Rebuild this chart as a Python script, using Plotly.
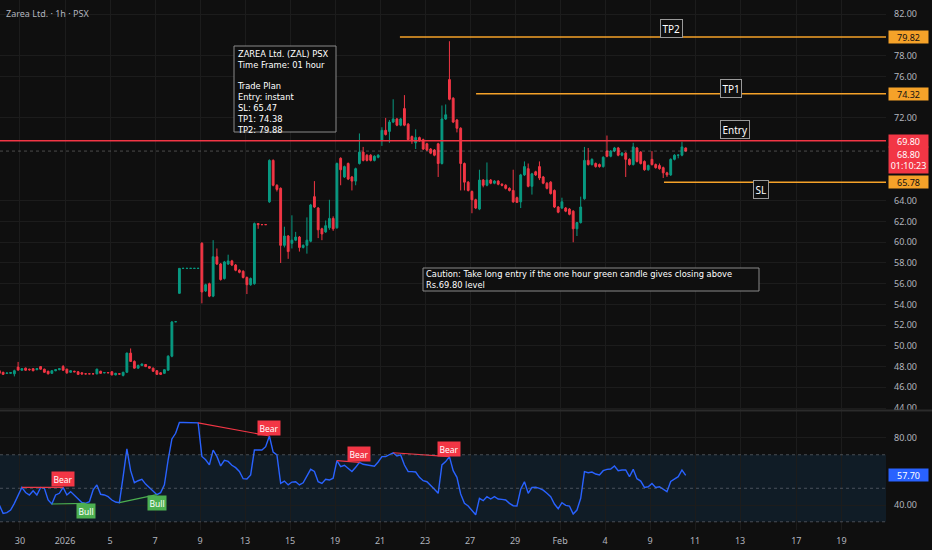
import plotly.graph_objects as go

GREEN = "#089981"
RED = "#f23645"
ORANGE = "#f5a229"
BLUE = "#2962ff"
BULL = "#4caf50"
BG = "#0f0f0f"
GRID = "#1c1c1c"
TEXT = "#b2b5be"
FONT = "Noto Sans"
NOTE_FONT = "DejaVu Sans"

# hourly bars of ZAL, index 0 = first bar of 29 Dec, 6 bars per session
opens = [
    47.60, 47.45, 47.35, 47.35, 47.30, 47.95, 47.65, 47.85, 47.75, 47.80,
    47.70, 48.00, 47.75, 47.55, 47.35, 47.60, 47.70, 48.00, 47.75, 47.45,
    47.55, 47.50, 47.40, 47.30, 47.30, 47.30, 47.30, 47.55, 47.40, 47.42,
    47.50, 47.20, 47.30, 47.15, 47.45, 49.30, 48.50, 47.85, 48.10, 48.20,
    48.00, 47.85, 47.60, 47.40, 47.35, 47.65, 49.00, 52.33, 55.07, 57.48,
    57.48, 57.48, 57.48, 57.48, 59.90, 55.30, 56.00, 54.80, 58.60, 57.90,
    56.50, 57.90, 58.20, 57.80, 57.30, 57.20, 56.60, 55.90, 56.00, 61.80,
    61.70, 61.70, 63.90, 67.90, 65.50, 65.20, 59.70, 60.60, 59.90, 60.20,
    60.50, 59.50, 59.70, 60.10, 64.40, 63.30, 61.30, 61.00, 61.40, 62.30,
    61.40, 68.10, 66.30, 67.60, 66.30, 65.90, 67.60, 68.70, 68.40, 68.40,
    67.90, 68.20, 69.80, 70.80, 70.70, 71.60, 71.90, 71.30, 72.90, 71.40,
    70.20, 69.60, 70.10, 69.90, 69.50, 69.00, 68.90, 69.50, 67.60, 71.90,
    75.70, 73.90, 71.80, 71.00, 67.60, 65.80, 64.90, 64.10, 63.20, 66.00,
    65.50, 66.00, 65.70, 65.90, 65.60, 65.50, 65.20, 65.00, 64.30, 63.90,
    66.50, 67.10, 65.40, 66.80, 67.30, 66.30, 65.70, 65.80, 65.00, 63.40,
    63.30, 63.30, 63.20, 63.00, 61.30, 61.90, 64.20, 67.90, 67.50, 67.60,
    67.50, 67.30, 68.80, 68.30, 68.80, 69.10, 68.40, 68.60, 68.00, 67.50,
    69.10, 68.70, 67.80, 67.00, 68.00, 67.50, 67.40, 67.20, 66.70, 66.50,
    68.00, 68.40, 68.40, 69.10,
]
highs = [
    47.70, 47.50, 47.40, 47.45, 47.70, 48.45, 47.85, 47.90, 47.80, 47.85,
    47.85, 48.05, 47.80, 47.60, 47.65, 47.75, 47.85, 48.15, 47.80, 47.65,
    47.60, 47.55, 47.45, 47.35, 47.30, 47.30, 47.80, 47.60, 47.45, 47.45,
    47.55, 47.40, 47.35, 47.50, 49.35, 49.75, 48.60, 48.20, 48.30, 48.25,
    48.05, 47.90, 47.65, 47.45, 47.75, 49.10, 52.40, 52.33, 57.50, 57.48,
    57.48, 57.48, 57.48, 57.48, 60.00, 56.00, 56.10, 60.20, 59.40, 58.00,
    58.20, 58.80, 58.30, 57.90, 57.40, 57.30, 56.70, 56.60, 61.90, 61.85,
    61.70, 61.70, 68.00, 68.00, 65.60, 65.30, 61.50, 60.70, 62.60, 61.00,
    60.60, 59.80, 62.40, 63.70, 65.90, 63.40, 61.40, 62.10, 64.10, 62.50,
    67.70, 68.20, 67.40, 67.70, 66.40, 67.20, 70.50, 69.20, 68.50, 68.50,
    68.40, 68.50, 71.10, 72.00, 71.80, 73.80, 72.00, 72.00, 74.20, 71.50,
    70.30, 70.90, 70.20, 70.00, 69.60, 69.10, 69.00, 69.60, 73.20, 73.30,
    79.40, 74.00, 71.90, 71.10, 67.70, 65.90, 65.00, 64.20, 67.00, 66.10,
    67.70, 66.10, 66.00, 66.00, 65.70, 65.60, 65.30, 67.00, 64.40, 66.60,
    67.80, 67.60, 66.70, 66.90, 67.80, 66.40, 65.80, 65.90, 65.10, 63.50,
    64.30, 63.40, 63.30, 63.10, 61.90, 64.40, 69.20, 69.10, 68.10, 67.70,
    67.60, 68.30, 70.30, 68.90, 69.20, 69.20, 68.70, 68.70, 68.10, 69.60,
    69.20, 68.80, 67.90, 67.50, 68.80, 67.60, 67.60, 67.30, 66.80, 68.10,
    68.50, 68.50, 69.70, 69.15,
]
lows = [
    47.30, 47.20, 47.30, 47.30, 47.05, 47.60, 47.60, 47.60, 47.60, 47.55,
    47.65, 47.70, 47.40, 47.25, 47.30, 47.55, 47.65, 47.60, 47.30, 47.40,
    47.45, 47.20, 47.20, 47.25, 47.30, 47.30, 47.25, 47.30, 47.35, 47.38,
    47.15, 47.15, 47.25, 47.05, 47.40, 48.45, 47.80, 47.80, 48.05, 47.95,
    47.80, 47.50, 47.20, 47.20, 47.30, 47.60, 48.90, 52.33, 55.05, 57.48,
    57.48, 57.48, 57.48, 57.48, 54.10, 55.20, 54.70, 54.70, 57.80, 56.30,
    56.40, 57.80, 57.70, 57.20, 57.00, 56.50, 55.00, 55.80, 55.90, 61.30,
    61.70, 61.70, 63.80, 65.40, 64.90, 58.00, 59.50, 58.40, 59.40, 60.10,
    59.10, 59.40, 58.90, 60.00, 63.30, 60.40, 60.20, 60.90, 61.20, 61.10,
    61.30, 65.50, 66.20, 66.00, 65.00, 65.50, 67.50, 67.80, 67.80, 67.80,
    67.80, 68.10, 69.30, 70.30, 69.60, 71.50, 71.20, 71.20, 71.20, 69.80,
    69.50, 69.00, 69.70, 68.90, 68.80, 68.50, 68.30, 66.30, 67.50, 71.80,
    73.70, 71.50, 70.60, 65.00, 65.00, 64.90, 62.80, 63.20, 63.10, 65.30,
    65.40, 65.60, 65.60, 65.50, 65.40, 65.10, 64.90, 63.80, 63.80, 63.30,
    66.40, 65.30, 64.60, 66.40, 66.00, 65.60, 65.10, 64.60, 63.30, 62.80,
    63.20, 62.90, 62.60, 60.00, 60.60, 61.80, 64.10, 67.40, 67.40, 67.20,
    67.20, 67.20, 68.20, 68.20, 68.70, 68.30, 68.30, 66.30, 67.40, 67.40,
    67.70, 67.50, 66.90, 66.90, 67.40, 67.10, 67.00, 66.20, 66.30, 66.40,
    67.90, 68.10, 68.30, 68.75,
]
closes = [
    47.35, 47.25, 47.38, 47.42, 47.60, 47.67, 47.80, 47.65, 47.70, 47.60,
    47.80, 47.75, 47.45, 47.30, 47.60, 47.70, 47.80, 47.65, 47.40, 47.60,
    47.50, 47.25, 47.30, 47.30, 47.30, 47.30, 47.75, 47.35, 47.42, 47.40,
    47.20, 47.35, 47.28, 47.45, 49.30, 48.50, 47.85, 48.10, 48.25, 48.00,
    47.85, 47.55, 47.25, 47.25, 47.70, 49.00, 52.30, 52.33, 57.48, 57.48,
    57.48, 57.48, 57.48, 57.48, 55.20, 55.90, 54.80, 58.60, 57.90, 56.40,
    58.10, 58.20, 57.80, 57.30, 57.10, 56.60, 55.90, 56.50, 61.80, 61.70,
    61.70, 61.70, 67.90, 65.50, 65.10, 59.70, 60.60, 59.10, 60.20, 60.50,
    59.50, 59.70, 60.20, 63.60, 63.40, 61.20, 60.80, 61.60, 62.30, 61.30,
    67.60, 67.00, 67.30, 66.10, 65.90, 67.10, 68.70, 67.90, 67.90, 67.90,
    68.30, 68.40, 70.80, 70.40, 71.60, 71.90, 71.30, 71.90, 71.30, 69.90,
    69.80, 70.10, 69.80, 69.00, 68.90, 68.60, 68.40, 67.60, 71.90, 72.30,
    73.80, 71.60, 71.00, 67.60, 65.80, 65.00, 64.10, 63.30, 66.00, 65.50,
    66.00, 65.70, 65.90, 65.60, 65.50, 65.20, 65.00, 63.90, 63.85, 66.50,
    67.30, 65.40, 66.60, 66.50, 66.20, 65.70, 65.20, 64.70, 63.40, 62.90,
    63.90, 63.00, 62.70, 61.30, 61.90, 63.40, 67.90, 67.50, 68.00, 67.30,
    67.30, 68.20, 68.30, 68.80, 69.10, 68.40, 68.60, 68.00, 67.50, 69.20,
    67.80, 67.60, 67.00, 67.40, 67.50, 67.20, 67.10, 66.70, 66.50, 68.00,
    68.40, 68.40, 69.20, 68.80,
]
rsi = [
    40.0, 35.0, 35.5, 37.0, 41.0, 46.0, 50.5, 47.5, 46.0, 48.5,
    46.0, 50.5, 50.0, 43.0, 40.6, 46.0, 47.0, 50.5, 46.0, 48.0,
    46.0, 43.5, 41.5, 41.0, 42.0, 49.0, 52.0, 46.4, 46.0, 45.0,
    43.0, 41.8, 41.4, 57.0, 73.5, 60.5, 53.3, 54.5, 55.3, 52.5,
    50.5, 48.2, 46.2, 47.4, 52.0, 67.0, 79.4, 82.8, 89.2, 89.2,
    89.2, 89.2, 89.2, 89.0, 69.0, 67.0, 64.0, 72.8, 69.0, 63.3,
    66.7, 66.0, 63.7, 62.3, 60.0, 55.7, 55.5, 58.0, 72.8, 72.8,
    72.8, 74.8, 81.2, 71.6, 69.9, 52.9, 54.3, 52.0, 53.7, 53.9,
    52.0, 53.3, 57.3, 61.3, 60.0, 53.9, 52.9, 55.3, 54.9, 56.0,
    66.5, 62.9, 63.7, 61.9, 60.0, 62.5, 65.5, 64.3, 63.9, 63.7,
    63.1, 65.7, 68.9, 68.9, 70.2, 71.2, 69.3, 69.9, 63.9, 59.9,
    59.9, 59.7, 56.5, 54.5, 53.9, 51.9, 49.4, 47.0, 63.9, 65.9,
    68.9, 60.5, 56.5, 46.6, 41.0, 39.4, 37.0, 34.2, 44.0, 42.6,
    45.0, 43.6, 45.0, 43.6, 43.4, 43.0, 41.0, 39.6, 39.4, 49.4,
    53.9, 47.0, 50.5, 50.6, 49.9, 48.9, 47.0, 45.0, 40.6, 37.8,
    41.4, 39.8, 39.4, 34.6, 37.0, 44.0, 59.9, 59.3, 59.7, 58.5,
    57.9, 60.5, 61.3, 61.5, 63.3, 60.5, 60.9, 60.9, 56.9, 61.3,
    55.7, 54.3, 50.5, 50.9, 52.9, 50.5, 50.9, 49.4, 48.0, 54.1,
    55.3, 56.9, 60.9, 57.7,
]

# date labels on the time axis (session number counted from 29 Dec)
label_sessions = [1, 3, 5, 7, 9, 11, 13, 15, 17, 19, 21, 23, 25, 27, 29, 31, 33, 35.5, 37.5]
label_texts = ["30", "2026", "5", "7", "9", "13", "15", "19", "21", "23",
               "27", "29", "Feb", "4", "9", "11", "13", "17", "19"]
BARS_PER_SESSION = 6

# price / RSI scale labels left visible (others sit under the level tags)
price_ticks = [44, 46, 48, 50, 52, 54, 56, 58, 60, 62, 64, 72, 76, 78, 82]
rsi_ticks = [40, 80]

# trade plan levels drawn on the chart
level_names = ["TP2", "TP1", "Entry", "SL"]
level_values = [79.82, 74.32, 69.80, 65.78]
level_start_bar = [106.8, 127.1, 0, 177.2]
last_price = 68.80
countdown = "01:10:23"

# RSI divergences (start bar, end bar)
bear_pairs = [(6, 17), (53, 72), (90, 96), (105, 120)]
bull_pairs = [(14, 23), (32, 42)]

info_lines = ["ZAREA Ltd. (ZAL) PSX", "Time Frame: 01 hour", "", "Trade Plan",
              "Entry: instant", "SL: 65.47", "TP1: 74.38", "TP2: 79.88"]
caution_lines = ["Caution: Take long entry if the one hour green candle gives closing above",
                 "Rs.69.80 level"]

W, H = 932, 550
PLOT_W, PLOT_H = 886, 530
X_RANGE = [0.17, 236.4]
PRICE_RANGE = [43.81, 83.38]
RSI_RANGE = [25.1, 96.1]
MAIN_BOTTOM = 120 / PLOT_H
RSI_TOP = 119 / PLOT_H


def px_x(px):
    return px / PLOT_W


def px_y(py):
    return (PLOT_H - py) / PLOT_H


bars = list(range(len(closes)))
tick_vals = [BARS_PER_SESSION * s - 0.5 for s in label_sessions]

fig = go.Figure()

fig.add_trace(go.Candlestick(
    x=bars, open=opens, high=highs, low=lows, close=closes,
    increasing=dict(line=dict(color=GREEN, width=1), fillcolor=GREEN),
    decreasing=dict(line=dict(color=RED, width=1), fillcolor=RED),
    whiskerwidth=0, showlegend=False, hoverinfo="skip",
    xaxis="x", yaxis="y",
))

fig.add_trace(go.Scatter(
    x=bars, y=rsi, mode="lines", line=dict(color=BLUE, width=1.4),
    showlegend=False, hoverinfo="skip", xaxis="x2", yaxis="y2",
))

annotations = []
for pairs, col, label, shift in ((bear_pairs, RED, "Bear", 8), (bull_pairs, BULL, "Bull", -8)):
    for a, b in pairs:
        fig.add_trace(go.Scatter(x=[a, b], y=[rsi[a], rsi[b]], mode="lines",
                                 line=dict(color=col, width=1.2), showlegend=False,
                                 hoverinfo="skip", xaxis="x2", yaxis="y2"))
        annotations.append(dict(x=b, y=rsi[b], xref="x2", yref="y2", text=label,
                                showarrow=False, yshift=shift, bgcolor=col, borderpad=1.5,
                                font=dict(family=FONT, size=8.5, color="white")))

shapes = []
# RSI band and guide lines
shapes.append(dict(type="rect", xref="x2 domain", yref="y2", x0=0, x1=1, y0=30, y1=70,
                   fillcolor="rgba(33,150,243,0.1)", line=dict(width=0), layer="below"))
for lvl in (70, 50, 30):
    shapes.append(dict(type="line", xref="x2 domain", yref="y2", x0=0, x1=1, y0=lvl, y1=lvl,
                       line=dict(color="rgba(120,123,134,0.55)", width=1, dash="dot")))
# pane separator
shapes.append(dict(type="line", xref="paper", yref="paper", x0=0, x1=1 + 46 / PLOT_W,
                   y0=MAIN_BOTTOM - 0.001, y1=MAIN_BOTTOM - 0.001,
                   line=dict(color="#2b2b2b", width=2)))
# last price line
shapes.append(dict(type="line", xref="x domain", yref="y", x0=0, x1=1, y0=last_price, y1=last_price,
                   line=dict(color="rgba(190,190,190,0.35)", width=1, dash="dot")))
# trade levels
for name, val, start in zip(level_names, level_values, level_start_bar):
    col = RED if name == "Entry" else ORANGE
    shapes.append(dict(type="line", xref="x", yref="y", x0=start, x1=X_RANGE[1], y0=val, y1=val,
                       line=dict(color=col, width=1.5)))
# text boxes
shapes.append(dict(type="rect", xref="paper", yref="paper", x0=px_x(234), x1=px_x(336),
                   y0=px_y(132), y1=px_y(46), fillcolor=BG, line=dict(color="#8a8a8a", width=1)))
shapes.append(dict(type="rect", xref="paper", yref="paper", x0=px_x(423), x1=px_x(759),
                   y0=px_y(291), y1=px_y(268), fillcolor=BG, line=dict(color="#8a8a8a", width=1)))

# the two notes, each as one multi-line text block
annotations.append(dict(xref="paper", yref="paper", x=px_x(236), y=px_y(47.5),
                        xanchor="left", yanchor="top", align="left", borderpad=0,
                        text="<br>".join(info_lines), showarrow=False,
                        font=dict(family=NOTE_FONT, size=8.3, color="white")))
annotations.append(dict(xref="paper", yref="paper", x=px_x(425), y=px_y(268.5),
                        xanchor="left", yanchor="top", align="left", borderpad=0,
                        text="<br>".join(caution_lines), showarrow=False,
                        font=dict(family=NOTE_FONT, size=8.3, color="white")))

label_px = {"TP2": (683, 8), "TP1": (742, 5), "Entry": (750, 11), "SL": (769, -7)}
for name, val in zip(level_names, level_values):
    lx, shift = label_px[name]
    annotations.append(dict(xref="paper", yref="y", x=px_x(lx), y=val, yshift=shift,
                            text=name, showarrow=False, bgcolor=BG, bordercolor="#9a9a9a",
                            borderwidth=1, borderpad=1.5,
                            font=dict(family=FONT, size=10, color="white")))
    col = RED if name == "Entry" else ORANGE
    annotations.append(dict(xref="paper", yref="y", x=1, xanchor="left", xshift=2, y=val,
                            text=f"{val:.2f}", showarrow=False, bgcolor=col, width=38,
                            height=11, borderpad=0.5,
                            font=dict(family=FONT, size=9,
                                      color="white" if name == "Entry" else "#111111")))
annotations.append(dict(xref="paper", yref="y", x=1, xanchor="left", xshift=2, y=last_price,
                        yanchor="top", yshift=5, text=f"{last_price:.2f}<br>{countdown}",
                        showarrow=False, bgcolor=RED, width=38, borderpad=0.5,
                        font=dict(family=FONT, size=9, color="white")))
annotations.append(dict(xref="paper", yref="y2", x=1, xanchor="left", xshift=2, y=rsi[-1],
                        text=f"{rsi[-1]:.2f}", showarrow=False, bgcolor=BLUE, width=38,
                        height=11, borderpad=0.5, font=dict(family=FONT, size=9, color="white")))
annotations.append(dict(xref="paper", yref="paper", x=0, y=1, xshift=4, yshift=-5,
                        xanchor="left", yanchor="top", text="Zarea Ltd. · 1h · PSX",
                        showarrow=False, font=dict(family=FONT, size=9, color=TEXT)))

axis_common = dict(showgrid=True, gridcolor=GRID, zeroline=False, showline=False,
                   tickfont=dict(family=FONT, size=9, color=TEXT))

fig.update_layout(
    width=W, height=H,
    margin=dict(l=0, r=46, t=0, b=20),
    paper_bgcolor=BG, plot_bgcolor=BG,
    showlegend=False, hovermode=False,
    shapes=shapes, annotations=annotations,
    xaxis=dict(axis_common, domain=[0, 1], anchor="y", range=X_RANGE,
               tickvals=tick_vals, showticklabels=False, rangeslider=dict(visible=False)),
    xaxis2=dict(axis_common, domain=[0, 1], anchor="y2", range=X_RANGE, matches="x",
                tickvals=tick_vals, ticktext=label_texts, ticks="", ticklabelstandoff=4),
    yaxis=dict(axis_common, domain=[MAIN_BOTTOM, 1], anchor="x", side="right",
               range=PRICE_RANGE, tickvals=price_ticks, tickformat=".2f", ticks="",
               ticklabelstandoff=7),
    yaxis2=dict(axis_common, domain=[0, RSI_TOP], anchor="x2", side="right",
                range=RSI_RANGE, tickvals=rsi_ticks, tickformat=".2f", ticks="",
                ticklabelstandoff=7),
)

fig.write_html("out.html", config={"displayModeBar": False},
               post_script="document.body.style.margin='0';"
                           "document.body.style.overflow='hidden';")
